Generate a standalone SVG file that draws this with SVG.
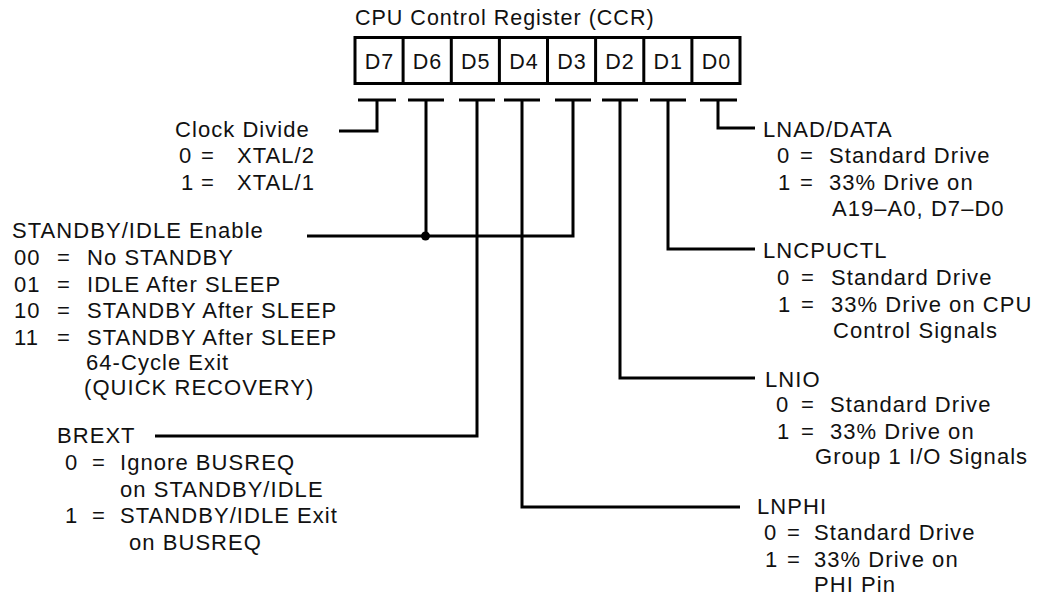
<svg xmlns="http://www.w3.org/2000/svg" width="1052" height="597" viewBox="0 0 1052 597">
<style>
.t{font-family:"Liberation Sans",Arial,Helvetica,sans-serif;font-size:22px;letter-spacing:1.05px;fill:#111}
.h{font-size:21.5px;letter-spacing:1px}
.c{text-anchor:middle}
.w{stroke:#000;stroke-width:3;fill:none;stroke-linecap:butt;stroke-linejoin:miter}
</style>
<rect width="1052" height="597" fill="#fff"/>
<g id="register">
<text class="t h" x="355" y="25">CPU Control Register (CCR)</text>
<rect class="w" x="355" y="37.5" width="385" height="46"/>
<path class="w" d="M403.1 37.5V83.5M451.3 37.5V83.5M499.4 37.5V83.5M547.5 37.5V83.5M595.6 37.5V83.5M643.8 37.5V83.5M691.9 37.5V83.5"/>
<text class="t h c" x="379.5" y="69">D7</text>
<text class="t h c" x="427.6" y="69">D6</text>
<text class="t h c" x="475.8" y="69">D5</text>
<text class="t h c" x="523.9" y="69">D4</text>
<text class="t h c" x="572" y="69">D3</text>
<text class="t h c" x="620.1" y="69">D2</text>
<text class="t h c" x="668.3" y="69">D1</text>
<text class="t h c" x="716.4" y="69">D0</text>
</g>
<g id="connectors">
<path class="w" d="M358 100H396M408 100H444M459 100H495M504 100H540M555 100H591M602 100H638M650 100H686M700 100H737"/>
<path class="w" d="M377 100V131H339"/>
<path class="w" d="M426 100V236"/>
<path class="w" d="M573 100V236H307"/>
<circle cx="425.5" cy="236" r="4.5" fill="#000"/>
<path class="w" d="M477 100V436H155"/>
<path class="w" d="M522 100V507H740"/>
<path class="w" d="M620 100V378H755"/>
<path class="w" d="M668 100V249H755"/>
<path class="w" d="M718 100V128H755"/>
</g>
<g id="clock-divide">
<text class="t" x="175" y="137">Clock Divide</text>
<text class="t" y="163"><tspan x="179">0</tspan><tspan x="201">=</tspan><tspan x="237">XTAL/2</tspan></text>
<text class="t" y="190"><tspan x="181">1</tspan><tspan x="201">=</tspan><tspan x="237">XTAL/1</tspan></text>
</g>
<g id="standby-idle">
<text class="t" x="12" y="238">STANDBY/IDLE Enable</text>
<text class="t" y="265"><tspan x="14">00</tspan><tspan x="57">=</tspan><tspan x="87">No STANDBY</tspan></text>
<text class="t" y="291.5"><tspan x="14">01</tspan><tspan x="57">=</tspan><tspan x="87">IDLE After SLEEP</tspan></text>
<text class="t" y="318"><tspan x="14">10</tspan><tspan x="57">=</tspan><tspan x="87">STANDBY After SLEEP</tspan></text>
<text class="t" y="344.5"><tspan x="14">11</tspan><tspan x="57">=</tspan><tspan x="87">STANDBY After SLEEP</tspan></text>
<text class="t" x="86" y="369.5">64-Cycle Exit</text>
<text class="t" x="84" y="394.5">(QUICK RECOVERY)</text>
</g>
<g id="brext">
<text class="t" x="57" y="443">BREXT</text>
<text class="t" y="470"><tspan x="65">0</tspan><tspan x="92">=</tspan><tspan x="120">Ignore BUSREQ</tspan></text>
<text class="t" x="120" y="496.5">on STANDBY/IDLE</text>
<text class="t" y="523"><tspan x="65">1</tspan><tspan x="92">=</tspan><tspan x="120">STANDBY/IDLE Exit</tspan></text>
<text class="t" x="129" y="549.5">on BUSREQ</text>
</g>
<g id="lnad-data">
<text class="t" x="763" y="136.5">LNAD/DATA</text>
<text class="t" y="163"><tspan x="777">0</tspan><tspan x="800">=</tspan><tspan x="829">Standard Drive</tspan></text>
<text class="t" y="189.5"><tspan x="778">1</tspan><tspan x="800">=</tspan><tspan x="829">33% Drive on</tspan></text>
<text class="t" x="832" y="216">A19–A0, D7–D0</text>
</g>
<g id="lncpuctl">
<text class="t" x="763" y="257.5">LNCPUCTL</text>
<text class="t" y="285"><tspan x="777">0</tspan><tspan x="801">=</tspan><tspan x="831">Standard Drive</tspan></text>
<text class="t" y="312"><tspan x="778">1</tspan><tspan x="801">=</tspan><tspan x="831">33% Drive on CPU</tspan></text>
<text class="t" x="833" y="338">Control Signals</text>
</g>
<g id="lnio">
<text class="t" x="765" y="386.5">LNIO</text>
<text class="t" y="412"><tspan x="776">0</tspan><tspan x="801">=</tspan><tspan x="830">Standard Drive</tspan></text>
<text class="t" y="438.5"><tspan x="777">1</tspan><tspan x="801">=</tspan><tspan x="830">33% Drive on</tspan></text>
<text class="t" x="815" y="464">Group 1 I/O Signals</text>
</g>
<g id="lnphi">
<text class="t" x="757" y="513.5">LNPHI</text>
<text class="t" y="540"><tspan x="764">0</tspan><tspan x="787">=</tspan><tspan x="814">Standard Drive</tspan></text>
<text class="t" y="566.5"><tspan x="765">1</tspan><tspan x="787">=</tspan><tspan x="814">33% Drive on</tspan></text>
<text class="t" x="814" y="591.5">PHI Pin</text>
</g>
</svg>
